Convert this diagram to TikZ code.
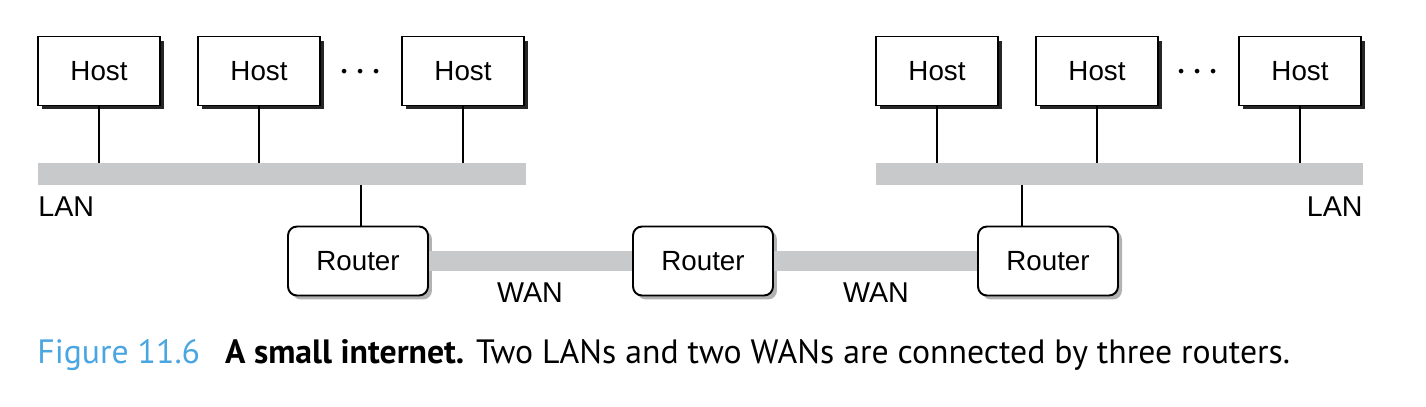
\documentclass[tikz,border=0pt]{standalone}
\usepackage{fontspec}
\setmainfont{Liberation Sans}
\newfontfamily\capfont{PT Sans}
\usetikzlibrary{shadows}
\definecolor{barGray}{RGB}{200,201,203}
\definecolor{figBlue}{RGB}{74,166,225}
\def\hostfont{\fontsize{15.8}{18}\selectfont}
\def\netfont{\fontsize{16.3}{19}\selectfont}

\tikzset{
  host/.style={draw, line width=0.7pt, fill=white, minimum width=2.44cm, minimum height=1.38cm,
    inner sep=0pt, font=\hostfont,
    drop shadow={shadow xshift=0.08cm, shadow yshift=-0.08cm, fill=black!85, opacity=1}},
  router/.style={draw, line width=1.1pt, rounded corners=0.18cm, fill=white, minimum width=2.8cm,
    minimum height=1.38cm, inner sep=0pt, font=\hostfont,
    drop shadow={shadow xshift=0.08cm, shadow yshift=-0.08cm, fill=black!30, opacity=1}},
  lanbar/.style={fill=barGray, inner sep=0pt, minimum width=9.76cm, minimum height=0.44cm},
  wanbar/.style={draw=barGray, line width=0.4cm},
  tap/.style={line width=0.6pt},
  netlabel/.style={font=\netfont, inner sep=0pt},
  dots/.style={font=\fontsize{24}{24}\selectfont, inner sep=0pt}
}

\begin{document}
\begin{tikzpicture}[x=0.02cm, y=-0.02cm]
  \useasboundingbox (0,0) rectangle (1426,406);

  %the two LANs
  \node[lanbar] (lanL) at (282,174) {};
  \node[lanbar] (lanR) at (1119.5,174) {};
  \node[netlabel, anchor=west] (lanLlabel) at (38,207) {LAN};
  \node[netlabel, anchor=east] (lanRlabel) at (1363,207) {LAN};

  %hosts
  \node[host] (hL1) at (99,71) {Host};
  \node[host] (hL2) at (259,71) {Host};
  \node[host] (hL3) at (463,71) {Host};
  \node[host] (hR1) at (937,71) {Host};
  \node[host] (hR2) at (1097,71) {Host};
  \node[host] (hR3) at (1300,71) {Host};
  \node[dots] (dotsL) at (361,73) {${\cdot}\hspace{0.08cm}{\cdot}\hspace{0.08cm}{\cdot}$};
  \node[dots] (dotsR) at (1198,73) {${\cdot}\hspace{0.08cm}{\cdot}\hspace{0.08cm}{\cdot}$};

  %routers
  \node[router] (r1) at (358,261) {Router};
  \node[router] (r2) at (703,261) {Router};
  \node[router] (r3) at (1048,261) {Router};

  %the two WANs
  \draw[wanbar] (r1.east) -- (r2.west);
  \draw[wanbar] (r2.east) -- (r3.west);
  \node[netlabel] (wan1) at (530,293) {WAN};
  \node[netlabel] (wan2) at (876,293) {WAN};

  %taps onto the LANs
  \foreach \h in {hL1,hL2,hL3}
    \draw[tap] (\h.south) -- (\h.south |- lanL.north);
  \foreach \h in {hR1,hR2,hR3}
    \draw[tap] (\h.south) -- (\h.south |- lanR.north);
  \draw[tap] ([xshift=0.06cm]r1.north) -- ([xshift=0.06cm]r1.north |- lanL.south);
  \draw[tap] ([xshift=-0.52cm]r3.north) -- ([xshift=-0.52cm]r3.north |- lanR.south);

  %caption
  \node[anchor=base west, inner sep=0pt] (caption) at (37,363)
    {\capfont\fontsize{19.2}{22}\selectfont\textcolor{figBlue}{Figure 11.6}\hspace{0.5cm}\textbf{A small internet.} Two LANs and two WANs are connected by three routers.};
\end{tikzpicture}
\end{document}
